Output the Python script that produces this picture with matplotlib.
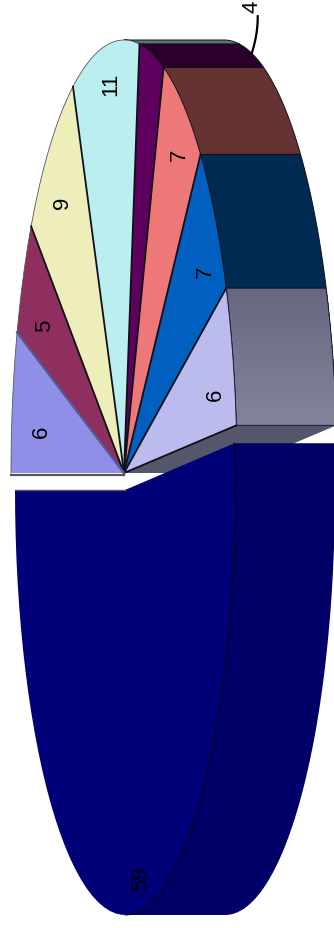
import numpy as np
import matplotlib
matplotlib.use('Agg')
import matplotlib.pyplot as plt

# Slice values, clockwise from the left of the (rotated) pie
values = [6, 5, 9, 11, 4, 7, 7, 6, 59]
labels = ['6', '5', '9', '11', '4', '7', '7', '6', '59']
top_colors = ['#8f8fe8', '#8f2f5f', '#eeeebb', '#bbeeee', '#5f005f',
              '#ee7777', '#005fbf', '#bbbbee', '#000078']
wall_colors = ['#55558c', '#5c1f40', '#77775c', '#5f7373', '#2a002a',
               '#663333', '#002a52', '#666680', '#000068']

# Layout in pixels
W, H = 334, 929
cx, cy, rx, ry = 124, 474, 113, 433
cx_big, cy_big, rx_big, ry_big = 125, 491, 110, 425
depth = 100
label_r = 0.8
label_shift = [(7, 15), (1, 8), (-2, -10), (2, -48), (0, 0), (8, -24), (9, 3), (4, 15), (11, 48)]

fig = plt.figure(figsize=(W / 100, H / 100), dpi=100)
ax = fig.add_axes([0, 0, 1, 1])
ax.set_xlim(0, W)
ax.set_ylim(H, 0)
ax.axis('off')


def rim(t, x0, y0, a, b):
    t = np.radians(t)
    return x0 + a * np.cos(t), y0 - b * np.sin(t)


# Angles from the values, starting at 180 and going clockwise
ends = 180 - np.cumsum(values) / sum(values) * 360
starts = np.r_[180, ends[:-1]]
n = len(values)


def wedge(t0, t1, x0, y0, a, b):
    t = np.linspace(t0, t1, 60)
    x, y = rim(t, x0, y0, a, b)
    return np.r_[x0, x, x0], np.r_[y0, y, y0]


def wall(t0, t1, x0, y0, a, b):
    t = np.linspace(t0, t1, 60)
    x, y = rim(t, x0, y0, a, b)
    return np.r_[x, x[::-1] + depth], np.r_[y, y[::-1]]


# Cut face of the last small slice, seen through the gap
xe, ye = rim(starts[-1], cx, cy, rx, ry)
ax.fill([cx, xe, xe + depth, cx + depth], [cy, ye, ye, cy], color='#55556c', lw=0, zorder=1)
ax.plot([cx, xe, xe + depth], [cy, ye, ye], color='#222233', lw=0.8, zorder=1)

# Outer walls of the small slices, only the part facing the viewer
for i in range(n - 1):
    t0, t1 = min(starts[i], 90), ends[i]
    if t0 <= t1:
        continue
    if i == n - 2:
        # the lavender wall has a soft gradient
        steps = np.linspace(t0, t1, 40)
        c0 = np.array(matplotlib.colors.to_rgb(wall_colors[i]))
        c1 = np.array(matplotlib.colors.to_rgb('#83839e'))
        for j in range(39):
            xs, ys = wall(steps[j], steps[j + 1], cx, cy, rx, ry)
            ax.fill(xs, ys, color=c0 + (c1 - c0) * j / 38, lw=0, antialiased=False, zorder=2)
        xs, ys = wall(t0, t1, cx, cy, rx, ry)
        ax.fill(np.r_[xs, xs[0]], np.r_[ys, ys[0]], fill=False, ec='#15152a', lw=0.7, zorder=2)
    else:
        xs, ys = wall(t0, t1, cx, cy, rx, ry)
        ax.fill(xs, ys, fc=wall_colors[i], ec='#10101a', lw=0.7, zorder=2)

# Top faces of the small slices, dark spokes and a softer outer rim
for i in range(n - 1):
    xs, ys = wedge(starts[i], ends[i], cx, cy, rx, ry)
    ax.fill(xs, ys, fc=top_colors[i], lw=0, zorder=3)
    xr, yr = rim(np.linspace(starts[i], ends[i], 60), cx, cy, rx, ry)
    ax.plot(xr, yr, color='#555560' if starts[i] > 85 else '#15151f', lw=0.6, zorder=3)
for t in ends[:-1]:
    xb, yb = rim(t, cx, cy, rx, ry)
    ax.plot([cx, xb], [cy, yb], color='#101018', lw=1.3, zorder=4)

# Bluish edge between first two slices and gray base line of the first
xb, yb = rim(ends[0], cx, cy, rx, ry)
ax.plot([cx, xb], [cy, yb], color='#5a5a96', lw=1.6, zorder=4)
xl, yl = rim(180, cx, cy, rx, ry)
ax.plot([xl, cx], [yl + 2, cy + 2], color='#555555', lw=1.6, zorder=4)

# The big exploded slice
xs, ys = wall(starts[-1], -90, cx_big, cy_big, rx_big, ry_big)
ax.fill(xs, ys, fc=wall_colors[-1], lw=0, zorder=5)
xs, ys = wedge(starts[-1], ends[-1], cx_big, cy_big, rx_big, ry_big)
ax.fill(xs, ys, fc=top_colors[-1], lw=0, zorder=6)
xr, yr = rim(np.linspace(starts[-1], -90, 120), cx_big, cy_big, rx_big, ry_big)
ax.plot(xr, yr, color='black', lw=0.7, zorder=7)
xg, yg = rim(180, cx_big, cy_big, rx_big, ry_big)
ax.plot([xg, cx_big], [yg, cy_big], color='#555566', lw=1.0, zorder=7)

# Value labels, on the bisector of each slice
mids = (starts + ends) / 2
for i in range(n):
    if labels[i] == '4':
        continue
    x0, y0, a, b = (cx_big, cy_big, rx_big, ry_big) if i == n - 1 else (cx, cy, rx, ry)
    xt, yt = rim(mids[i], x0, y0, a * label_r, b * label_r)
    ax.text(xt + label_shift[i][0], yt + label_shift[i][1], labels[i], rotation=90,
            family='Liberation Sans', fontsize=16, color='black', ha='center', va='center', zorder=8)

# The 4 sits outside with a leader line from its wall
xw, yw = rim(mids[4], cx, cy, rx, ry)
xw += depth
t = np.linspace(0, 1, 20)
ax.plot(xw + 12 * t - 6 * t ** 2, yw - 37 * t, color='black', lw=1.6, zorder=8)
ax.text(xw, 7, labels[4], rotation=90, family='Liberation Sans', fontsize=16,
        color='black', ha='center', va='center', zorder=8)

fig.savefig('out.png', dpi=100)
